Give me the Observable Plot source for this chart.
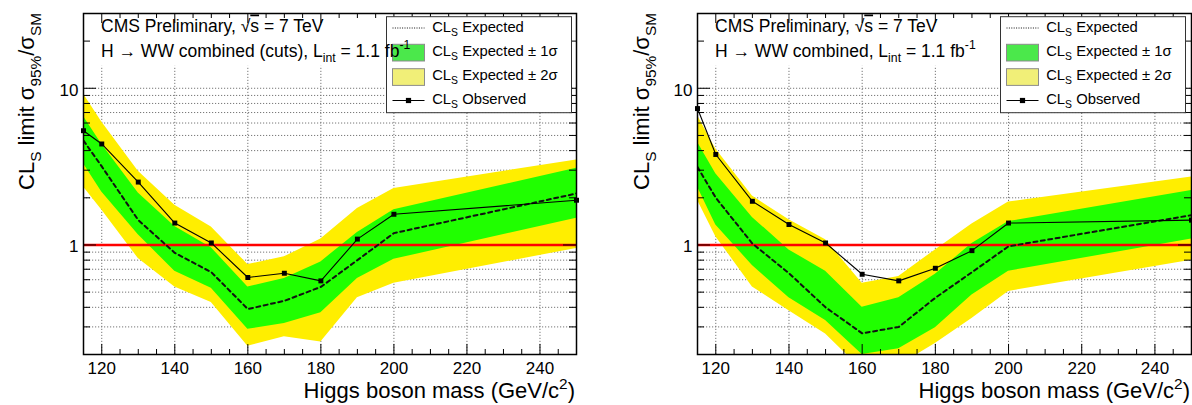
<!DOCTYPE html>
<html>
<head>
<meta charset="utf-8">
<script src="https://cdn.jsdelivr.net/npm/d3@7"></script>
<script src="https://cdn.jsdelivr.net/npm/@observablehq/plot@0.6"></script>
<style>
  html, body { margin: 0; padding: 0; background: #fff; }
  #wrap { display: flex; width: 1192px; height: 405px; }
  svg { font-family: "Liberation Sans", Arial, Helvetica, sans-serif; }
</style>
</head>
<body>
<div id="wrap"></div>
<script>
// ---------- data ----------
const mass = [115, 120, 130, 140, 150, 160, 170, 180, 190, 200, 250];

// left panel: H -> WW combined (cuts)
const obsCuts   = [5.36, 4.41, 2.52, 1.38, 1.03, 0.62, 0.66, 0.59, 1.09, 1.57, 1.93];
const expCuts   = [4.63, 3.17, 1.44, 0.89, 0.67, 0.39, 0.44, 0.54, 0.80, 1.19, 2.13];
const m1Cuts    = [3.30, 2.18, 1.16, 0.68, 0.53, 0.29, 0.315, 0.37, 0.61, 0.81, 1.48];
const p1Cuts    = [6.60, 4.40, 2.15, 1.31, 0.96, 0.54, 0.61, 0.78, 1.20, 1.68, 3.09];
const m2Cuts    = [2.34, 1.67, 0.82, 0.54, 0.43, 0.226, 0.26, 0.24, 0.46, 0.57, 0.95];
const p2Cuts    = [9.20, 6.10, 2.95, 1.79, 1.30, 0.75, 0.84, 1.09, 1.71, 2.29, 3.49];

// right panel: H -> WW combined
const obsComb   = [7.42, 3.78, 1.90, 1.35, 1.03, 0.65, 0.59, 0.71, 0.92, 1.38, 1.44];
const expComb   = [3.14, 2.00, 1.02, 0.66, 0.40, 0.273, 0.30, 0.46, 0.67, 0.98, 1.55];
const m1Comb    = [2.34, 1.34, 0.74, 0.46, 0.33, 0.20, 0.218, 0.296, 0.48, 0.68, 1.09];
const p1Comb    = [4.52, 2.85, 1.50, 0.93, 0.68, 0.40, 0.46, 0.65, 1.02, 1.41, 2.23];
const m2Comb    = [1.93, 1.13, 0.54, 0.38, 0.27, 0.16, 0.17, 0.235, 0.34, 0.505, 0.80];
const p2Comb    = [6.70, 4.10, 2.05, 1.45, 1.08, 0.57, 0.63, 0.93, 1.36, 1.88, 2.71];

// axes
const xDomain = [115, 250];
const yDomain = [0.2, 30];
const xTickLabels = [120, 140, 160, 180, 200, 220, 240];
const xMinorTicks = [125, 130, 135, 145, 150, 155, 165, 170, 175, 185, 190, 195, 205, 210, 215, 225, 230, 235, 245];
const yTickLabels = [1, 10];
const yMinorTicks = [0.3, 0.4, 0.5, 0.6, 0.7, 0.8, 0.9, 2, 3, 4, 5, 6, 7, 8, 9, 20];
const yGrid = [0.3, 0.4, 0.5, 0.6, 0.7, 0.8, 0.9, 1, 2, 3, 4, 5, 6, 7, 8, 9, 10];
const limitLine = [1];
const gridTop = 13.8;

// ---------- styles ----------
const YELLOW = "#ffee00", GREEN = "#20ff00";
const LEG_YELLOW = "#f1ef78", LEG_GREEN = "#4be84b";
const W = 596, H = 405, MT = 13, MB = 51;

function rows(obs, exp, m1, p1, m2, p2) {
  return mass.map((m, i) => ({mass: m, obs: obs[i], exp: exp[i], m1: m1[i], p1: p1[i], m2: m2[i], p2: p2[i]}));
}

function rich(sel, parts, size) {
  let shift = 0;
  parts.forEach(p => {
    const target = p.sub ? size * 0.32 : p.sup ? -size * 0.42 : 0;
    const ts = sel.append("tspan").text(p.t)
      .attr("dy", (target - shift).toFixed(2))
      .attr("font-size", (p.sub || p.sup) ? size * 0.7 : size);
    if (p.over) ts.style("text-decoration", "overline");
    shift = target;
  });
}

function txt(svg, x, y, anchor) {
  return svg.append("text").attr("x", x).attr("y", y)
    .attr("text-anchor", anchor).attr("fill", "black")
    .attr("font-family", "Liberation Sans, Arial, sans-serif")
    .style("font-variant", "normal");
}

function panel(cfg, container) {
  const data = rows(...cfg.series);
  const fw = W - cfg.ml - cfg.mr, fh = H - MT - MB;
  const plot = Plot.plot({
    width: W, height: H,
    marginLeft: cfg.ml, marginRight: cfg.mr, marginTop: MT, marginBottom: MB,
    style: {fontFamily: "Liberation Sans, Arial, sans-serif", background: "white", overflow: "visible"},
    x: {domain: xDomain, axis: null},
    y: {type: "log", domain: yDomain, axis: null},
    marks: [
      Plot.ruleY(yGrid, {y: d => d, stroke: "#777", strokeWidth: 1, strokeDasharray: "1.2,1.8"}),
      Plot.ruleX(xTickLabels, {x: d => d, y1: yDomain[0], y2: gridTop, stroke: "#777", strokeWidth: 1, strokeDasharray: "1.2,1.8"}),
      Plot.areaY(data, {x: "mass", y1: "m2", y2: "p2", fill: YELLOW, clip: true}),
      Plot.areaY(data, {x: "mass", y1: "m1", y2: "p1", fill: GREEN, clip: true}),
      Plot.ruleY(limitLine, {y: d => d, stroke: "#ff0000", strokeWidth: 2.5}),
      Plot.line(data, {x: "mass", y: "exp", stroke: "#111", strokeWidth: 2, strokeDasharray: "4,3.5", clip: true}),
      Plot.line(data, {x: "mass", y: "obs", stroke: "black", strokeWidth: 1.1}),
      Plot.dot(data, {x: "mass", y: "obs", symbol: "square", r: 2.8, fill: "black", stroke: "none"}),
      // ticks (inward)
      Plot.tickX(xTickLabels, {x: d => d, insetTop: fh - 10, stroke: "black"}),
      Plot.tickX(xMinorTicks, {x: d => d, insetTop: fh - 5, stroke: "black"}),
      Plot.tickX(xTickLabels, {x: d => d, insetBottom: fh - 10, stroke: "black"}),
      Plot.tickX(xMinorTicks, {x: d => d, insetBottom: fh - 5, stroke: "black"}),
      Plot.tickY(yTickLabels, {y: d => d, insetRight: fw - 13, stroke: "black"}),
      Plot.tickY(yMinorTicks, {y: d => d, insetRight: fw - 7, stroke: "black"}),
      Plot.tickY(yTickLabels, {y: d => d, insetLeft: fw - 13, stroke: "black"}),
      Plot.tickY(yMinorTicks, {y: d => d, insetLeft: fw - 7, stroke: "black"}),
      Plot.frame({stroke: "black", strokeWidth: 1.5}),
      Plot.text(xTickLabels, {x: d => d, text: d => String(d), frameAnchor: "bottom", dy: 14, lineAnchor: "middle", fontSize: 17, fill: "black"}),
      Plot.text(yTickLabels, {y: d => d, text: d => String(d), frameAnchor: "left", dx: -5, dy: 2, textAnchor: "end", lineAnchor: "middle", fontSize: 17, fill: "black"})
    ]
  });
  container.appendChild(plot);

  const svg = d3.select(plot);
  const left = cfg.ml, right = W - cfg.mr;

  // y title (measured so that its end sits at the frame top)
  const yt = txt(svg, 0, 0, "start");
  rich(yt, [{t: "CL"}, {t: "S", sub: true}, {t: " limit σ"}, {t: "95%", sub: true}, {t: "/σ"}, {t: "SM", sub: true}], 22);
  const len = yt.node().getComputedTextLength();
  yt.attr("transform", `translate(${cfg.ytx},${MT + len}) rotate(-90)`);

  // x title
  const xt = txt(svg, right - 1, 398, "end");
  rich(xt, [{t: "Higgs boson mass (GeV/c"}, {t: "2", sup: true}, {t: ")"}], 22);

  // legend (drawn before the annotation so the annotation sits on top)
  const lx = left + 303.5, ly = 16.7, lw = 185, lh = 96;
  const g = svg.append("g");
  g.append("rect").attr("x", lx).attr("y", ly).attr("width", lw).attr("height", lh)
    .attr("fill", "white").attr("stroke", "#333").attr("stroke-width", 1);
  const sx0 = lx + 6, sx1 = lx + 38;
  g.append("line").attr("x1", sx0).attr("x2", sx1).attr("y1", 28).attr("y2", 28)
    .attr("stroke", "#111").attr("stroke-width", 1).attr("stroke-dasharray", "1,1.4");
  g.append("rect").attr("x", sx0).attr("y", 44.3).attr("width", sx1 - sx0).attr("height", 16.7)
    .attr("fill", LEG_GREEN).attr("stroke", "#8c8c8c").attr("stroke-width", 1);
  g.append("rect").attr("x", sx0).attr("y", 68.7).attr("width", sx1 - sx0).attr("height", 16.7)
    .attr("fill", LEG_YELLOW).attr("stroke", "#8c8c8c").attr("stroke-width", 1);
  g.append("line").attr("x1", sx0).attr("x2", sx1).attr("y1", 100.5).attr("y2", 100.5)
    .attr("stroke", "black").attr("stroke-width", 1.2);
  g.append("rect").attr("x", (sx0 + sx1) / 2 - 2.6).attr("y", 100.5 - 2.6).attr("width", 5.2).attr("height", 5.2).attr("fill", "black");
  const labels = [
    [{t: "CL"}, {t: "S", sub: true}, {t: " Expected"}],
    [{t: "CL"}, {t: "S", sub: true}, {t: " Expected ± 1σ"}],
    [{t: "CL"}, {t: "S", sub: true}, {t: " Expected ± 2σ"}],
    [{t: "CL"}, {t: "S", sub: true}, {t: " Observed"}]
  ];
  const bases = [31.7, 55.5, 79.5, 103.5];
  labels.forEach((parts, i) => {
    const t = txt(g, lx + 45.7, bases[i], "start");
    rich(t, parts, 14.8);
  });

  // annotations
  const t1 = txt(svg, left + 18, 31.5, "start");
  rich(t1, [{t: "CMS Preliminary, √"}, {t: "s", over: true}, {t: " = 7 TeV"}], 17.5);
  const t2 = txt(svg, left + 18, 56.5, "start");
  rich(t2, cfg.line2, 17.5);
  return plot;
}

const wrap = document.getElementById("wrap");
panel({
  ml: 83, mr: 20, ytx: 34,
  series: [obsCuts, expCuts, m1Cuts, p1Cuts, m2Cuts, p2Cuts],
  line2: [{t: "H → WW combined (cuts), L"}, {t: "int", sub: true}, {t: " = 1.1 fb"}, {t: "-1", sup: true}]
}, wrap);
panel({
  ml: 101, mr: 1, ytx: 53,
  series: [obsComb, expComb, m1Comb, p1Comb, m2Comb, p2Comb],
  line2: [{t: "H → WW combined, L"}, {t: "int", sub: true}, {t: " = 1.1 fb"}, {t: "-1", sup: true}]
}, wrap);
</script>
</body>
</html>
